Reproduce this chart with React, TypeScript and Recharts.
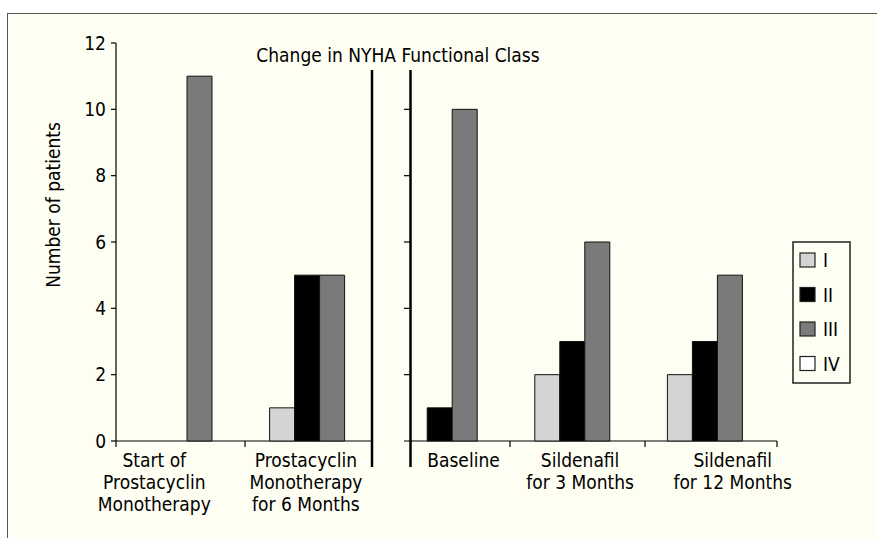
import { BarChart, Bar, XAxis, YAxis, Legend } from 'recharts';

// values (number of patients per NYHA class)
const categories = [
  'Start of\nProstacyclin\nMonotherapy',
  'Prostacyclin\nMonotherapy\nfor 6 Months',
  'Baseline',
  'Sildenafil\nfor 3 Months',
  'Sildenafil\nfor 12 Months',
];
const classI = [0, 1, 0, 2, 2];
const classII = [0, 5, 1, 3, 3];
const classIII = [11, 5, 10, 6, 5];
const classIV = [0, 0, 0, 0, 0];
const yTicks = [0, 2, 4, 6, 8, 10, 12];
const rightPanelTicks = [2, 4, 6, 8, 10];

const series = [
  { key: 'I', label: 'I', fill: '#d4d4d4' },
  { key: 'II', label: 'II', fill: '#000000' },
  { key: 'III', label: 'III', fill: '#7a7a7a' },
  { key: 'IV', label: 'IV', fill: '#ffffff' },
];

const data = categories.map((name, i) => ({
  name,
  I: classI[i],
  II: classII[i],
  III: classIII[i],
  IV: classIV[i],
}));

// layout
const W = 877;
const H = 538;
const PLOT_TOP = 43;
const PLOT_BOTTOM = 441;
const FONT = '"Liberation Sans Narrow", "DejaVu Sans Condensed", "Roboto Condensed", sans-serif';
const LABEL_NUDGE = [-33, -14, 11, -5, 15];
const yPx = (v: number) => PLOT_BOTTOM - ((PLOT_BOTTOM - PLOT_TOP) * v) / 12;

function CategoryTick(props: any) {
  const { x, y, payload, index } = props;
  const lines = String(payload.value).split('\n');
  return (
    <text
      x={x + LABEL_NUDGE[index]}
      y={y + 18}
      textAnchor="middle"
      fontSize={19}
      fontFamily={FONT}
      fill="#000"
    >
      {lines.map((l, i) => (
        <tspan key={i} x={x + LABEL_NUDGE[index]} dy={i === 0 ? 0 : 22}>
          {l}
        </tspan>
      ))}
    </text>
  );
}

function LegendBox() {
  return (
    <svg width={60} height={144}>
      <rect x={1} y={1} width={57} height={141} fill="none" stroke="#222" strokeWidth={1.5} />
      {series.map((s, i) => (
        <g key={s.key}>
          <rect x={8} y={12 + i * 34.5} width={15} height={14} fill={s.fill} stroke="#222" strokeWidth={1.2} />
          <text x={31} y={26 + i * 34.5} fontSize={19} fontFamily={FONT} fill="#000">
            {s.label}
          </text>
        </g>
      ))}
    </svg>
  );
}

export default function App() {
  return (
    <div style={{ position: 'absolute', left: 0, top: 0, width: W, height: H, background: '#fff', overflow: 'hidden' }}>
      <div
        style={{
          position: 'absolute',
          left: 7,
          top: 13,
          right: -4,
          bottom: -4,
          background: '#fffef3',
          borderLeft: '1.5px solid #555',
          borderTop: '1.5px solid #555',
        }}
      />
      <div style={{ position: 'absolute', left: 0, top: 0 }}>
        <BarChart
          width={W}
          height={H}
          data={data}
          margin={{ top: PLOT_TOP, right: 93, bottom: 0, left: 0 }}
          barGap={0}
          barSize={25}
        >
          <XAxis
            dataKey="name"
            height={H - PLOT_BOTTOM - PLOT_TOP + PLOT_TOP}
            axisLine={false}
            tickLine={false}
            interval={0}
            padding={{ left: 5, right: 0 }}
            tick={<CategoryTick />}
          />
          <YAxis
            width={116}
            domain={[0, 12]}
            ticks={yTicks}
            interval={0}
            axisLine={{ stroke: '#000', strokeWidth: 1.2 }}
            tickLine={{ stroke: '#000', strokeWidth: 1.2 }}
            tickSize={5}
            tickMargin={5}
            tick={{ fontSize: 19, fontFamily: FONT, fill: '#000' }}
          />
          {series.map((s) => (
            <Bar
              key={s.key}
              dataKey={s.key}
              name={s.label}
              fill={s.fill}
              stroke="#111"
              strokeWidth={1}
              isAnimationActive={false}
            />
          ))}
          <Legend
            layout="horizontal"
            verticalAlign="middle"
            content={<LegendBox />}
            wrapperStyle={{ position: 'absolute', left: 792, top: 241, width: 60, height: 144 }}
          />

          {/* x axis, split into two panels */}
          <line x1={116} x2={372} y1={PLOT_BOTTOM} y2={PLOT_BOTTOM} stroke="#000" strokeWidth={1.2} />
          <line x1={404} x2={777} y1={PLOT_BOTTOM} y2={PLOT_BOTTOM} stroke="#000" strokeWidth={1.2} />
          {[116, 245, 510, 645, 777].map((tx) => (
            <line key={tx} x1={tx} x2={tx} y1={PLOT_BOTTOM} y2={PLOT_BOTTOM + 6} stroke="#000" strokeWidth={1.2} />
          ))}

          {/* panel separators and second y axis */}
          <line x1={372} x2={372} y1={70} y2={467} stroke="#000" strokeWidth={2.5} />
          <line x1={410.5} x2={410.5} y1={70} y2={467} stroke="#000" strokeWidth={2.5} />
          {rightPanelTicks.map((v) => (
            <line key={v} x1={404} x2={410} y1={yPx(v)} y2={yPx(v)} stroke="#000" strokeWidth={1.2} />
          ))}

          <text x={398} y={62} textAnchor="middle" fontSize={19} fontFamily={FONT} fill="#000">
            Change in NYHA Functional Class
          </text>
          <text
            x={53}
            y={205}
            textAnchor="middle"
            dominantBaseline="central"
            transform="rotate(-90, 53, 205)"
            fontSize={19}
            fontFamily={FONT}
            fill="#000"
          >
            Number of patients
          </text>
        </BarChart>
      </div>
    </div>
  );
}
